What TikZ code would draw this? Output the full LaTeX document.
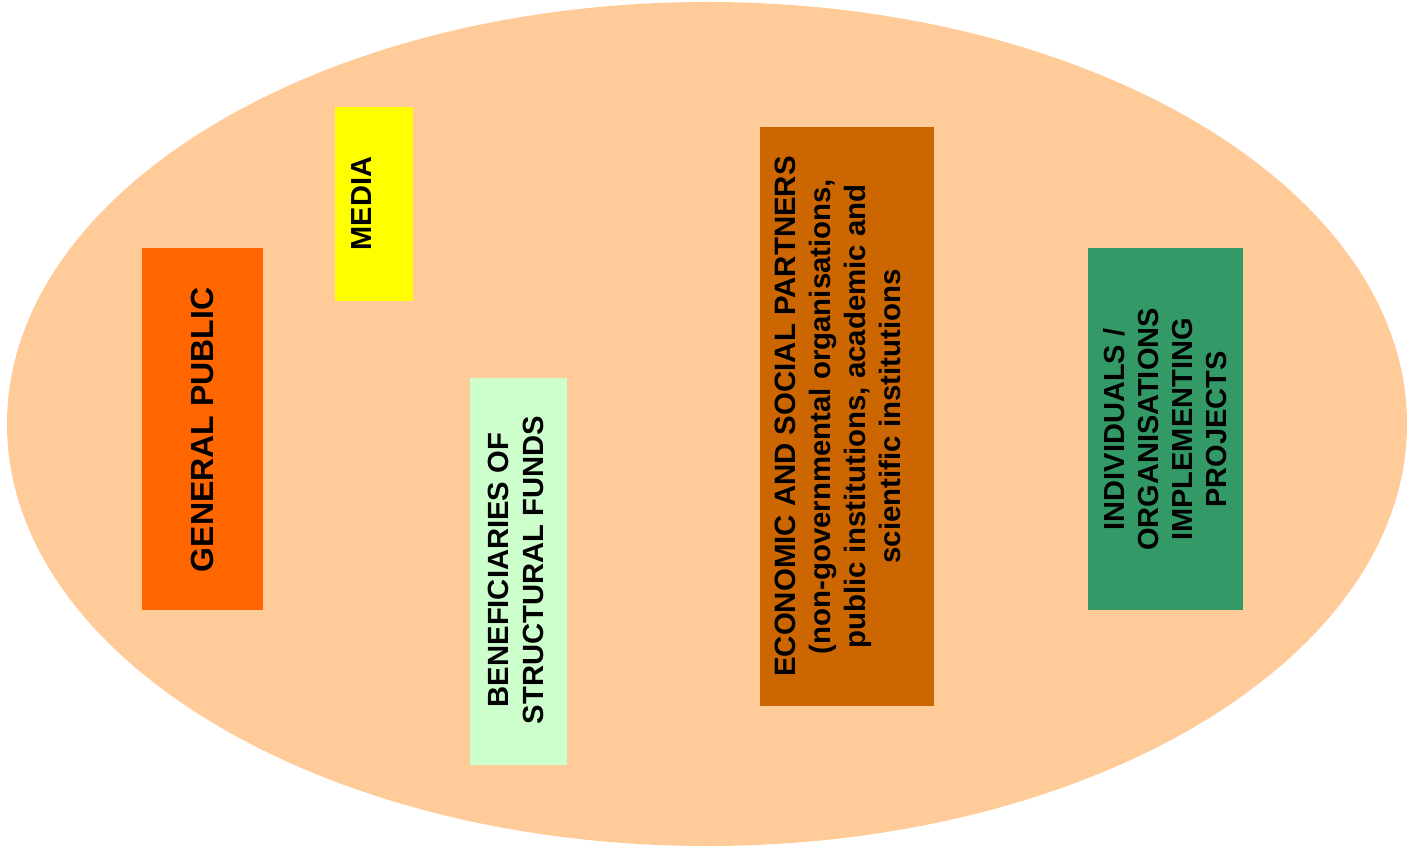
\documentclass[tikz,border=0pt]{standalone}
\usepackage{fontspec}
\setmainfont{Liberation Sans}
\usetikzlibrary{shapes.geometric}
\definecolor{ellfill}{HTML}{FFCC99}
\definecolor{gpfill}{HTML}{FF6600}
\definecolor{mediafill}{HTML}{FFFF00}
\definecolor{beneffill}{HTML}{CCFFCC}
\definecolor{econfill}{HTML}{CC6600}
\definecolor{indfill}{HTML}{339966}
\tikzset{
  groupbox/.style={rectangle, draw=none, inner sep=0pt, outer sep=0pt},
  grouplabel/.style={rotate=90, align=center, inner sep=0pt, font=\bfseries, text=black}
}
\begin{document}
\begin{tikzpicture}[x=0.5pt,y=-0.5pt]
\useasboundingbox (0,0) rectangle (1417,854);
\node[ellipse, fill=ellfill, draw=none, minimum width=700pt, minimum height=422pt, inner sep=0pt] (cloud) at (707,424) {};
% boxes
\node[groupbox, fill=gpfill, minimum width=60.5pt, minimum height=181pt] (gp) at (202.5,429) {};
\node[groupbox, fill=mediafill, minimum width=39pt, minimum height=97pt] (media) at (374,204) {};
\node[groupbox, fill=beneffill, minimum width=48.5pt, minimum height=193.5pt] (benef) at (518.5,571.5) {};
\node[groupbox, fill=econfill, minimum width=87pt, minimum height=289.5pt] (econ) at (847,416.5) {};
\node[groupbox, fill=indfill, minimum width=77.5pt, minimum height=181pt] (ind) at (1165.5,429) {};
% labels
\node[grouplabel, font=\bfseries\fontsize{16}{19}\selectfont] (gpt) at (202.5,430) {GENERAL PUBLIC};
\node[grouplabel, font=\bfseries\fontsize{14.5}{17}\selectfont] (mediat) at (362,203.5) {MEDIA};
\node[grouplabel, font=\bfseries\fontsize{14.6}{17.5}\selectfont] (beneft) at (516,570) {BENEFICIARIES OF\\STRUCTURAL FUNDS};
\node[grouplabel, font=\bfseries\fontsize{14.7}{17.5}\selectfont] (econt) at (838,416.5) {ECONOMIC AND SOCIAL PARTNERS\\(non-governmental organisations,\\public institutions, academic and\\scientific institutions};
\node[grouplabel, font=\bfseries\fontsize{14.5}{17}\selectfont] (indt) at (1165.5,429.5) {INDIVIDUALS /\\ORGANISATIONS\\IMPLEMENTING\\PROJECTS};
\end{tikzpicture}
\end{document}
